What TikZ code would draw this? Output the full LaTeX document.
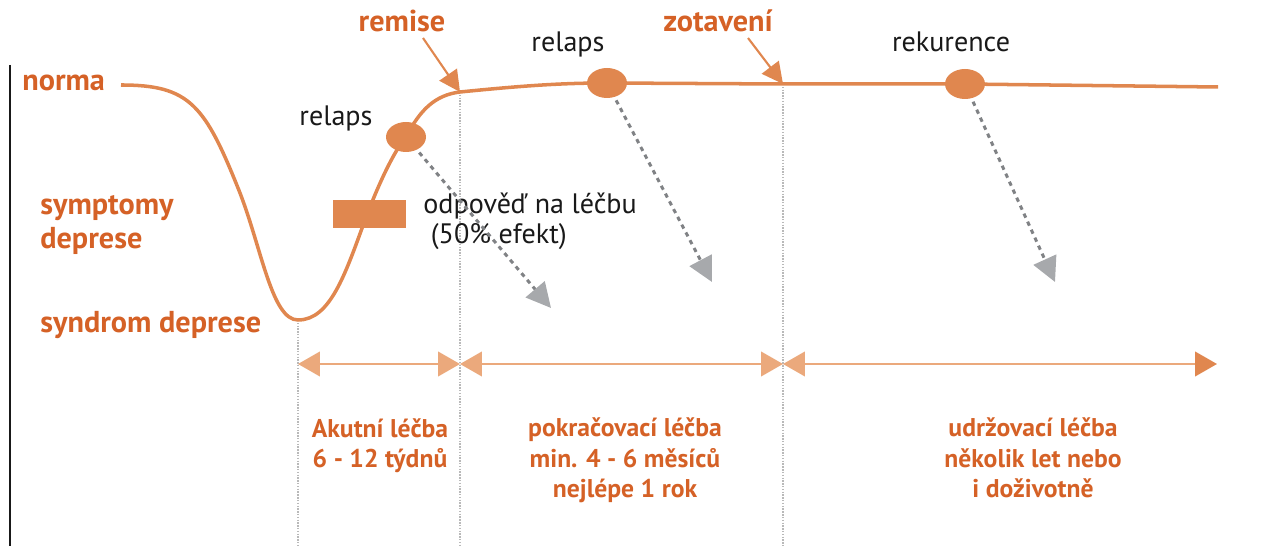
\documentclass[tikz,border=0pt]{standalone}
\usepackage{fontspec}
\setmainfont{PT Sans}
\usepackage{tikz}
\usetikzlibrary{positioning}
\usetikzlibrary{calc}
\usetikzlibrary{arrows.meta}
\usetikzlibrary{shapes.geometric}
\definecolor{labelorange}{RGB}{213,97,38}
\definecolor{curveorange}{RGB}{224,135,79}
\definecolor{spanorange}{RGB}{235,169,124}
\definecolor{dashgray}{RGB}{128,130,133}
\definecolor{headgray}{RGB}{167,169,172}
\definecolor{gridgray}{RGB}{185,185,185}
\tikzstyle{level} = [font=\bfseries\fontsize{17.2}{19}\selectfont, text=labelorange, inner sep=0pt]
\tikzstyle{note} = [font=\fontsize{16}{17.6}\selectfont, text=black!90, inner sep=0pt]
\tikzstyle{phase} = [font=\bfseries\fontsize{14.6}{17.4}\selectfont, text=labelorange, inner sep=0pt, align=center]
\tikzstyle{dot} = [ellipse, fill=curveorange, minimum width=0.8cm, minimum height=0.6cm, inner sep=0pt]
\tikzstyle{curve} = [draw=curveorange, line width=2pt]
\tikzstyle{guide} = [draw=gridgray, line width=0.6pt, dash pattern=on 0.8pt off 0.8pt]
\tikzstyle{span} = [draw=spanorange, line width=1.2pt, {Triangle[length=12.5pt,width=14pt]}-{Triangle[length=12.5pt,width=14pt]}]
\tikzstyle{pointer} = [draw=curveorange, line width=1.2pt, -{Triangle[length=12pt,width=12pt]}]
\tikzstyle{fall} = [draw=dashgray, line width=1.7pt, dash pattern=on 2.5pt off 2.5pt, shorten <=2pt, -{Triangle[length=14pt,width=14pt,color=headgray]}]

\begin{document}
\begin{tikzpicture}[x=0.02cm,y=-0.02cm]
    \useasboundingbox (0,0) rectangle (1277,546);
    % axis
    \coordinate (axtop) at (10,65);
    \coordinate (floor) at (10,546);
    \draw [line width=1.1pt, black!90] (axtop) -- (floor);

    % levels
    \node [level, anchor=base west] (norma) at (22,91) {norma};
    \node [level, anchor=base west, align=left, font=\bfseries\fontsize{17.2}{19.4}\selectfont] (symptomy) at (40,249) {symptomy\\deprese};
    \node [level, anchor=base west] (syndrom) at (40,333) {syndrom deprese};

    % points on the curve
    \coordinate (start) at (121,85);
    \coordinate (low) at (298,320);
    \coordinate (p1) at (406,137);
    \coordinate (remisept) at (460,92);
    \coordinate (p2) at (607,83);
    \coordinate (zotpt) at (783,84);
    \coordinate (p3) at (965,84);
    \coordinate (end) at (1218,87);

    % guides
    \draw [guide] (low) -- (low |- floor);
    \draw [guide] (remisept) -- (remisept |- floor);
    \draw [guide] (zotpt) -- (zotpt |- floor);

    \draw [curve] (start) .. controls (190,85) and (205,105) .. (240,193)
        .. controls (262,250) and (272,320) .. (low)
        .. controls (330,320) and (345,275) .. (365,220)
        .. controls (380,180) and (395,150) .. (p1)
        .. controls (420,110) and (435,95) .. (remisept)
        .. controls (520,86) and (560,83) .. (p2)
        -- (zotpt) -- (p3) -- (end);

    \node [fill=curveorange, minimum width=1.46cm, minimum height=0.56cm, inner sep=0pt] (response) at (369.5,214) {};
    \node [dot] (relaps1) at (p1) {};
    \node [dot] (relaps2) at (p2) {};
    \node [dot] (rekur) at (p3) {};

    % texts
    \node [note, anchor=base] (relapsA) at (336,126) {relaps};
    \node [note, anchor=base] (relapsB) at (568,52) {relaps};
    \node [note, anchor=base] (rekurence) at (951,52) {rekurence};
    \node [note, anchor=base west, align=left] (odpoved) at (423,244) {odpověď na léčbu\\\ (50\% efekt)};
    \node [level, anchor=base] (remise) at (402,32) {remise};
    \node [level, anchor=base] (zotaveni) at (718,32) {zotavení};
    \coordinate (remisefrom) at (423,38);
    \coordinate (zotfrom) at (748,38);
    \draw [pointer] (remisefrom) -- (remisept);
    \draw [pointer] (zotfrom) -- (zotpt);

    % drops
    \coordinate (drop1) at (551,308);
    \coordinate (drop2) at (712,282);
    \coordinate (drop3) at (1055,282);
    \draw [fall] (relaps1) -- (drop1);
    \draw [fall] (relaps2) -- (drop2);
    \draw [fall] (rekur) -- (drop3);

    % phases
    \coordinate (s0) at (298,364);
    \coordinate (s1) at (460,364);
    \coordinate (s2) at (783,364);
    \coordinate (s3) at (1217,364);
    \draw [span] (s0) -- (s1);
    \draw [span] (s1) -- (s2);
    \draw [span, {Triangle[length=12.5pt,width=14pt]}-{Triangle[length=12.5pt,width=14pt,color=curveorange]}] (s2) -- (s3);

    \node [phase, anchor=base] (akutni) at (380,468) {Akutní léčba\\6 - 12 týdnů};
    \node [phase, anchor=base] (pokrac) at (625,498) {pokračovací léčba\\min. 4 - 6 měsíců\\nejlépe 1 rok};
    \node [phase, anchor=base] (udrz) at (1033,498) {udržovací léčba\\několik let nebo\\i doživotně};
\end{tikzpicture}
\end{document}
